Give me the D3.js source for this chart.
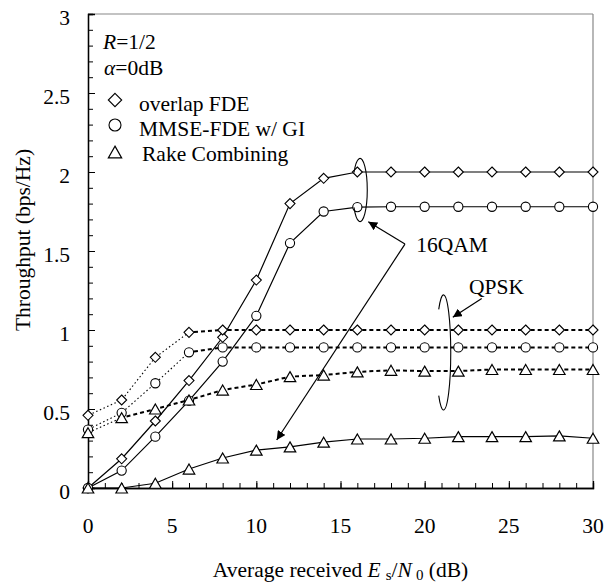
<!DOCTYPE html>
<html><head><meta charset="utf-8">
<script src="https://cdn.jsdelivr.net/npm/d3@7"></script>
<style>
html,body{margin:0;padding:0;background:#fff;}
text{font-family:"Liberation Serif","Times New Roman",serif;fill:#000;}
</style></head>
<body>
<svg id="c" width="606" height="587"></svg>
<script>
// ---- data ----
const snr = [0,2,4,6,8,10,12,14,16,18,20,22,24,26,28,30];
const qamOverlap = [0,0.185,0.424,0.68,0.954,1.316,1.80,1.96,2.0,2.0,2.0,2.0,2.0,2.0,2.0,2.0];
const qamMmse    = [0,0.11,0.325,0.553,0.80,1.09,1.55,1.75,1.778,1.78,1.78,1.78,1.78,1.78,1.78,1.78];
const qamRake    = [0,0,0.03,0.12,0.19,0.24,0.26,0.29,0.31,0.31,0.315,0.325,0.325,0.325,0.33,0.315];
const qpskOverlap= [0.46,0.557,0.827,0.985,1.0,1.0,1.0,1.0,1.0,1.0,1.0,1.0,1.0,1.0,1.0,1.0];
const qpskMmse   = [0.37,0.476,0.663,0.859,0.89,0.89,0.89,0.89,0.89,0.89,0.89,0.89,0.89,0.89,0.89,0.89];
const qpskRake   = [0.35,0.445,0.50,0.557,0.62,0.655,0.705,0.715,0.735,0.745,0.74,0.74,0.75,0.75,0.75,0.75];
const xTicks = [0,5,10,15,20,25,30];
const yTicks = [0,0.5,1,1.5,2,2.5,3];
const legendLabels = ["overlap FDE","MMSE-FDE w/ GI","Rake Combining"];

const svg = d3.select("#c");
const L=88, R=593, T=14, B=488;
const x = d3.scaleLinear().domain([0,30]).range([L,R]);
const y = d3.scaleLinear().domain([0,3]).range([B,T]);
const FS = 21.5;

// frame
svg.append("line").attr("x1",L).attr("x2",R).attr("y1",T).attr("y2",T).attr("stroke","#888").attr("stroke-width",1.2);
svg.append("line").attr("x1",R).attr("x2",R).attr("y1",T).attr("y2",B).attr("stroke","#888").attr("stroke-width",1.2);

// axes with inward ticks
const xMinor = d3.axisBottom(x).tickValues(d3.range(0,31,1)).tickSize(-5).tickFormat("");
const xMajor = d3.axisBottom(x).tickValues(xTicks).tickSize(-7).tickFormat("");
const yMinor = d3.axisLeft(y).tickValues(d3.range(0,30.5,1).map(d=>d/10)).tickSize(-5).tickFormat("");
const yMajor = d3.axisLeft(y).tickValues(yTicks).tickSize(-7).tickFormat("");
[xMinor,xMajor].forEach(a=>{
  const g=svg.append("g").attr("transform",`translate(0,${B})`).call(a);
  g.select(".domain").attr("stroke","#000").attr("stroke-width",1.3);
  g.selectAll(".tick line").attr("stroke","#000").attr("stroke-width",1);
});
[yMinor,yMajor].forEach(a=>{
  const g=svg.append("g").attr("transform",`translate(${L},0)`).call(a);
  g.select(".domain").attr("stroke","#000").attr("stroke-width",1.3);
  g.selectAll(".tick line").attr("stroke","#000").attr("stroke-width",1);
});
// tick labels
svg.append("g").selectAll("text").data(xTicks).join("text")
  .attr("x",d=>x(d)).attr("y",B+45).attr("text-anchor","middle").attr("font-size",FS).text(d=>d);
svg.append("g").selectAll("text").data(yTicks).join("text")
  .attr("x",70).attr("y",d=>y(d)+11).attr("text-anchor","end").attr("font-size",FS).text(d=>d);

// axis titles
const xt = svg.append("text").attr("x",x(15)).attr("y",577).attr("text-anchor","middle").attr("font-size",FS);
xt.append("tspan").text("Average received ");
xt.append("tspan").attr("font-style","italic").text("E");
xt.append("tspan").attr("font-size",15).attr("dx",5).attr("dy",3).text("s");
xt.append("tspan").attr("dy",-3).text("/");
xt.append("tspan").attr("font-style","italic").text("N");
xt.append("tspan").attr("font-size",15).attr("dx",4).attr("dy",3).text("0");
xt.append("tspan").attr("dy",-3).text(" (dB)");
svg.append("text").attr("transform",`translate(30,240) rotate(-90)`).attr("text-anchor","middle")
  .attr("font-size",FS).text("Throughput (bps/Hz)");

// series lines
const line = d3.line().x(d=>x(d[0])).y(d=>y(d[1]));
function solid(vals){
  svg.append("path").datum(snr.map((s,i)=>[s,vals[i]])).attr("d",line)
    .attr("fill","none").attr("stroke","#000").attr("stroke-width",1.2);
}
function dotted(vals){
  const pts = snr.map((s,i)=>[s,vals[i]]);
  for(let i=0;i<pts.length-1;i++){
    const steep = Math.abs(y(pts[i+1][1])-y(pts[i][1]))>12;
    svg.append("path").datum([pts[i],pts[i+1]]).attr("d",line)
      .attr("fill","none").attr("stroke","#000")
      .attr("stroke-width",steep?1.1:2).attr("stroke-dasharray",steep?"1.5,2.5":"4,3")
      .attr("stroke-dashoffset",-5);
  }
}
[qamOverlap,qamMmse,qamRake].forEach(solid);
[qpskOverlap,qpskMmse,qpskRake].forEach(dotted);

// markers
function diamond(g,cx,cy,h){ g.append("path").attr("d",`M${cx},${cy-h}L${cx+h},${cy}L${cx},${cy+h}L${cx-h},${cy}Z`).attr("fill","#fff").attr("stroke","#000").attr("stroke-width",1.1); }
function circle(g,cx,cy,r){ g.append("circle").attr("cx",cx).attr("cy",cy).attr("r",r).attr("fill","#fff").attr("stroke","#000").attr("stroke-width",1.1); }
function tri(g,cx,cy,w,h){ g.append("path").attr("d",`M${cx},${cy-h/2}L${cx+w/2},${cy+h/2}L${cx-w/2},${cy+h/2}Z`).attr("fill","#fff").attr("stroke","#000").attr("stroke-width",1.2); }
const mg = svg.append("g");
[qamOverlap,qpskOverlap].forEach(v=>snr.forEach((s,i)=>diamond(mg,x(s),y(v[i]),5)));
[qamMmse,qpskMmse].forEach(v=>snr.forEach((s,i)=>circle(mg,x(s),y(v[i]),4.6)));
[qamRake,qpskRake].forEach(v=>snr.forEach((s,i)=>tri(mg,x(s),y(v[i]),11.5,10)));

// legend
const lt = svg.append("text").attr("x",103).attr("y",49).attr("font-size",FS);
lt.append("tspan").attr("font-style","italic").text("R");
lt.append("tspan").text("=1/2");
const at = svg.append("text").attr("x",104).attr("y",75).attr("font-size",FS);
at.append("tspan").attr("font-style","italic").text("α");
at.append("tspan").text("=0dB");
const lg = svg.append("g");
diamond(lg,115,100,6.7); circle(lg,115,125,6); tri(lg,115,152,13.3,11.7);
legendLabels.forEach((t,i)=>{
  lg.append("text").attr("x",i==2?142:139).attr("y",111+25*i).attr("font-size",FS).text(t);
});

// annotations (in data units)
const defs = svg.append("defs");
defs.append("marker").attr("id","ah").attr("viewBox","0 0 10 10").attr("refX",10).attr("refY",5)
  .attr("markerWidth",9).attr("markerHeight",9).attr("markerUnits","userSpaceOnUse").attr("orient","auto")
  .append("path").attr("d","M0,0L10,5L0,10Z").attr("fill","#000");
function openEllipse(cxD,cyD,rxD,ryD,gapFrac){
  const cx=x(cxD), cy=y(cyD), rx=x(rxD)-x(0), ry=y(0)-y(ryD);
  const dy=ry*gapFrac, dx=rx*Math.sqrt(1-gapFrac*gapFrac);
  svg.append("path").attr("d",`M${cx-dx},${cy-dy}A${rx},${ry} 0 1 1 ${cx-dx},${cy+dy}`)
    .attr("fill","none").attr("stroke","#000").attr("stroke-width",1.1);
}
openEllipse(16.16,1.886,0.43,0.20,0.55);
openEllipse(21.12,0.858,0.43,0.364,0.75);
function arrow(x1,y1,x2,y2){
  svg.append("line").attr("x1",x(x1)).attr("y1",y(y1)).attr("x2",x(x2)).attr("y2",y(y2))
    .attr("stroke","#000").attr("stroke-width",1.2).attr("marker-end","url(#ah)");
}
arrow(18.83,1.544,16.65,1.685);
arrow(18.83,1.544,11.21,0.304);
arrow(23.39,1.20,21.67,1.08);
svg.append("text").attr("x",x(19.5)).attr("y",y(1.494)).attr("font-size",FS).text("16QAM");
svg.append("text").attr("x",x(22.63)).attr("y",y(1.228)).attr("font-size",FS).text("QPSK");
</script>
</body></html>
